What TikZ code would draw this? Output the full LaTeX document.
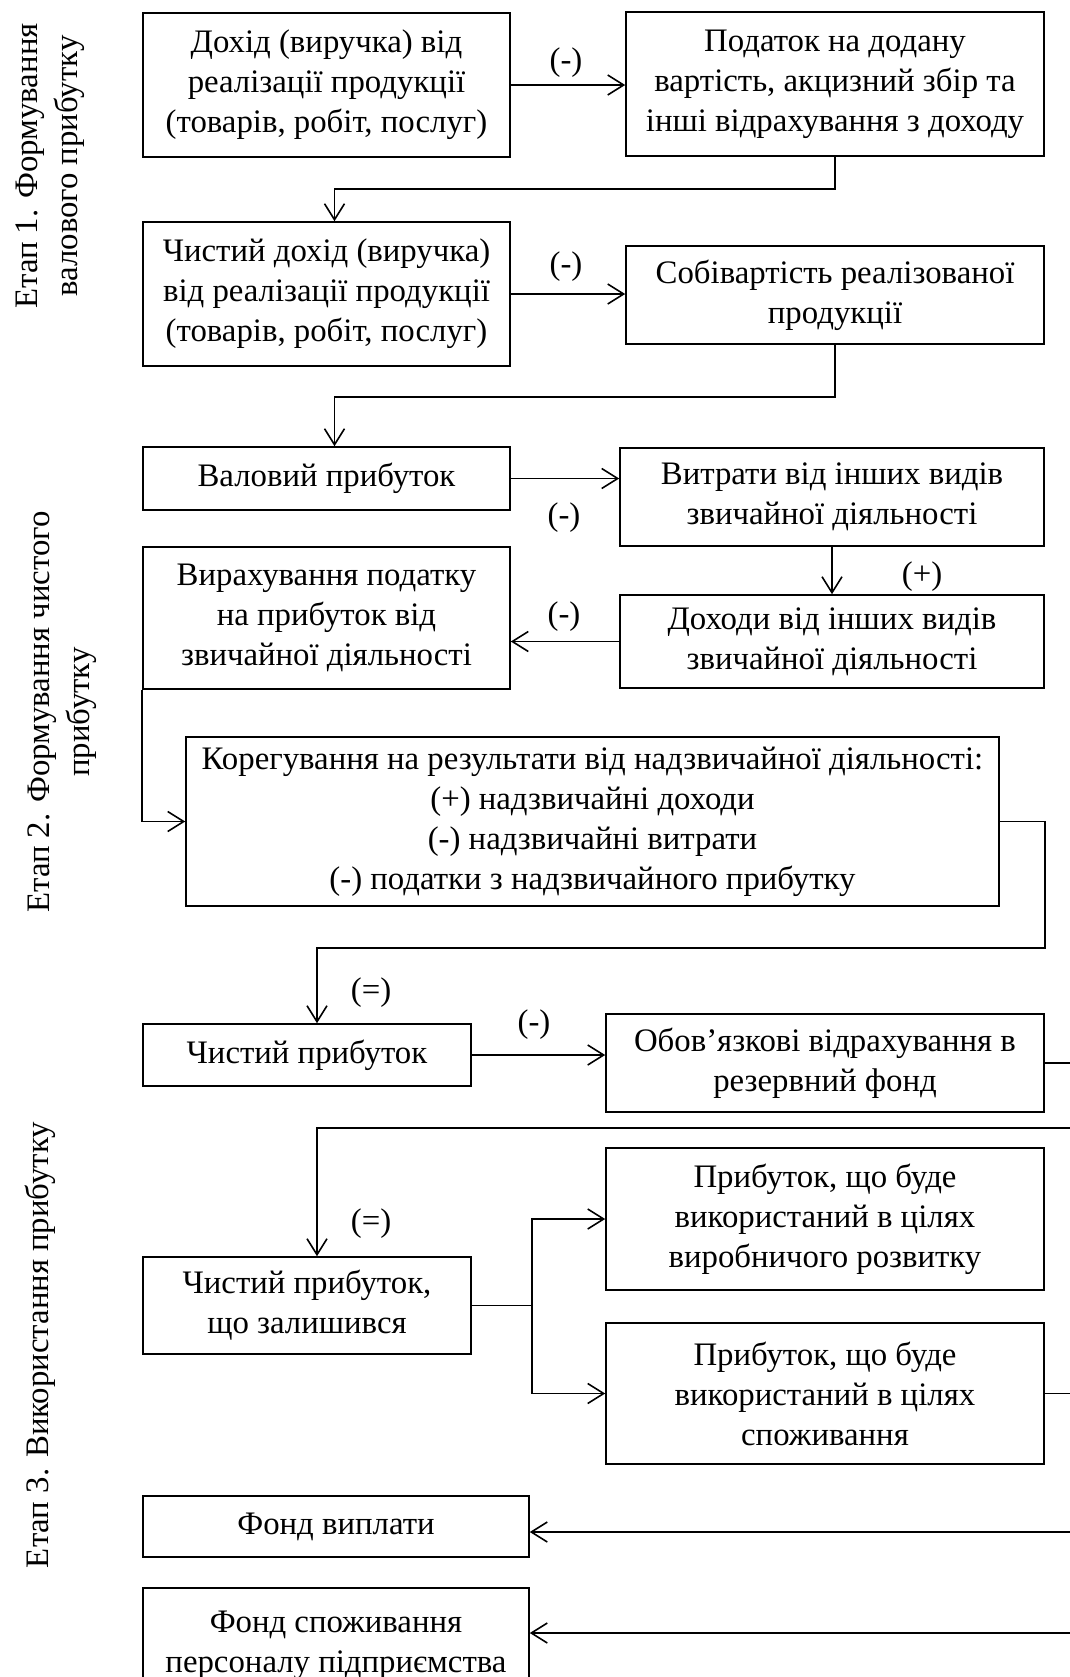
\documentclass[tikz,border=0pt]{standalone}
\usepackage{fontspec}
\setmainfont{Liberation Serif}
\usetikzlibrary{arrows.meta}

\begin{document}
\begin{tikzpicture}[x=0.5pt, y=-0.5pt,
            every node/.style={font=\fontsize{16.4}{20}\selectfont},
            blok/.style 2 args={draw, line width=0.8pt, align=center, inner sep=0pt,
                minimum width=#1, minimum height=#2},
            znak/.style={inner sep=0pt},
            etap/.style={rotate=90, align=center, inner sep=0pt},
            strelka/.style={-{Straight Barb[length=8pt,width=10pt]}, line width=0.8pt},
            lin/.style={line width=0.8pt},
            ]
            \useasboundingbox (0,0) rectangle (1070,1677);

            % etapy
            \node[etap] (e1) at (50,166) {Етап 1. Формування\\валового прибутку};
            \node[etap] (e2) at (62,712) {Етап 2. Формування чистого\\прибутку};
            \node[etap] (e3) at (40,1345) {Етап 3. Використання прибутку};

            % bloky
            \node[blok={183.5pt}{72pt}] (b1) at (326.5,85) {Дохід (виручка) від\\реалізації продукції\\(товарів, робіт, послуг)};
            \node[blok={209pt}{72pt}] (b2) at (835,84) {Податок на додану\\вартість, акцизний збір та\\інші відрахування з доходу};
            \node[blok={183.5pt}{72pt}] (b3) at (326.5,294) {Чистий дохід (виручка)\\від реалізації продукції\\(товарів, робіт, послуг)};
            \node[blok={209pt}{49pt}] (b4) at (835,295) {Собівартість реалізованої\\продукції};
            \node[blok={183.5pt}{31.5pt}] (b5) at (326.5,478.5) {Валовий прибуток};
            \node[blok={212pt}{49pt}] (b6) at (832,497) {Витрати від інших видів\\звичайної діяльності};
            \node[blok={212pt}{46.5pt}] (b7) at (832,641.5) {Доходи від інших видів\\звичайної діяльності};
            \node[blok={183.5pt}{71pt}] (b8) at (326.5,618) {Вирахування податку\\на прибуток від\\звичайної діяльності};
            \node[blok={406.5pt}{84.5pt}] (b9) at (592.5,821.5) {Корегування на результати від надзвичайної діяльності:\\(+) надзвичайні доходи\\(-) надзвичайні витрати\\(-) податки з надзвичайного прибутку};
            \node[blok={164pt}{31pt}] (b10) at (307,1055) {Чистий прибуток};
            \node[blok={219pt}{49pt}] (b11) at (825,1063) {Обов’язкові відрахування в\\резервний фонд};
            \node[blok={164pt}{48.5pt}] (b12) at (307,1305.5) {Чистий прибуток,\\що залишився};
            \node[blok={219pt}{71pt}] (b13) at (825,1219) {Прибуток, що буде\\використаний в цілях\\виробничого розвитку};
            \node[blok={219pt}{70.5pt}] (b14) at (825,1393.5) {Прибуток, що буде\\використаний в цілях\\споживання};
            \node[blok={193pt}{30.5pt}] (b15) at (336,1526.5) {Фонд виплати};
            \node[blok={193pt}{57pt}] (b16) at (336,1645) {Фонд споживання\\персоналу підприємства};

            % znaky
            \node[znak] (m1) at (566,63) {(-)};
            \node[znak] (m2) at (566,267) {(-)};
            \node[znak] (m3) at (564,518) {(-)};
            \node[znak] (m4) at (922,577) {(+)};
            \node[znak] (m5) at (564,617) {(-)};
            \node[znak] (m6) at (371,993) {(=)};
            \node[znak] (m7) at (534,1025) {(-)};
            \node[znak] (m8) at (371,1224) {(=)};

            \coordinate (r) at (1075,0);
            \coordinate (k) at (532,0);
            \coordinate (v1) at (1075,1128);
            \coordinate (v2) at (1075,1532);
            \coordinate (v3) at (1075,1633);

            % strilky
            \draw[strelka] (b1.east) -- (b1.east -| b2.west);
            \draw[strelka] (b2.south) -- ++(0,32) -| ([xshift=4pt]b3.north);
            \draw[strelka] (b3.east) -- (b3.east -| b4.west);
            \draw[strelka] (b4.south) -- ++(0,52) -| ([xshift=4pt]b5.north);
            \draw[strelka] (b5.east) -- (b5.east -| b6.west);
            \draw[strelka] (b6.south) -- (b7.north);
            \draw[strelka] (b7.west) -- (b7.west -| b8.east);
            \draw[strelka] (b8.south west) |- (b9.west);
            \draw[strelka] (b9.east) -- (b9.east -| b2.east) -- ++(0,126.5) -| ([xshift=5pt]b10.north);
            \draw[strelka] (b10.east) -- (b10.east -| b11.west);
            \draw[lin] (b11.east) -- (b11.east -| r);
            \draw[strelka] (v1) -| ([xshift=5pt]b12.north);
            \draw[lin] (b12.east) -- (b12.east -| k);
            \draw[strelka] (b12.east -| k) |- (b13.west);
            \draw[strelka] (b12.east -| k) |- (b14.west);
            \draw[lin] (b14.east) -- (b14.east -| r);
            \draw[strelka] (v2) -- (v2 -| b15.east);
            \draw[strelka] (v3) -- (v3 -| b16.east);
        \end{tikzpicture}
\end{document}
